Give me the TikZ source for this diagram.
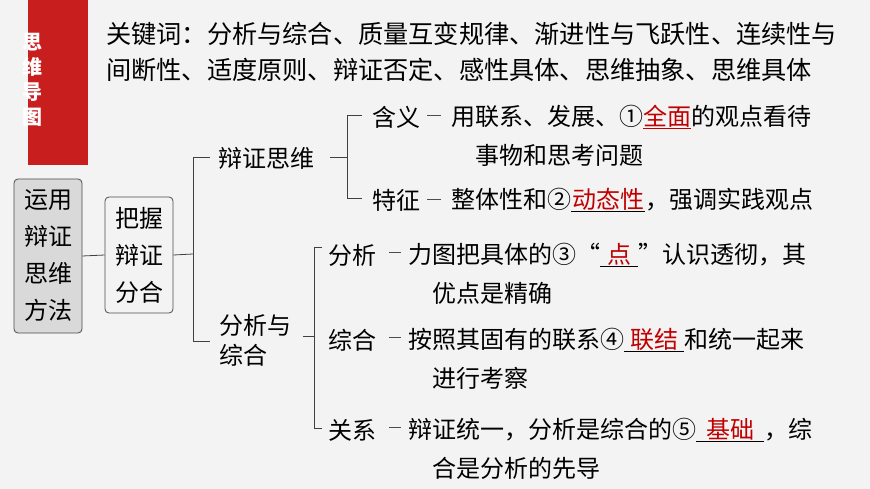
\documentclass[tikz,border=0pt]{standalone}
\usepackage{fontspec}
\setmainfont{Noto Sans CJK SC}
\definecolor{bg}{HTML}{F3F3F3}
\definecolor{redbar}{HTML}{C81E1E}
\definecolor{ans}{HTML}{C00000}
\newcommand{\fillin}[2]{\underline{\makebox[#1]{\textcolor{ans}{#2}}}}
\tikzset{
  t/.style={anchor=west, inner sep=0pt, font=\fontsize{24}{28}\selectfont},
  kw/.style={anchor=west, inner sep=0pt, font=\fontsize{25.2}{28}\selectfont},
  wire/.style={draw=black!75, line width=0.8pt},
  bx/.style={draw=black!70, rounded corners=4pt, line width=0.8pt, align=center, font=\fontsize{24}{37}\selectfont, inner sep=0pt},
  dsh/.style={draw=black!70, line width=0.8pt}
}
\begin{document}
\begin{tikzpicture}[x=1pt,y=-1pt]
\path[fill=bg] (0,0) rectangle (870,489);
\fill[redbar] (28,0) rectangle (88,165);
\foreach \c/\yy in {思/42,维/67,导/92,图/117}
  \node[text=white, font=\bfseries\fontsize{20}{20}\selectfont, inner sep=0pt] at (32,\yy) {\c};
\node[kw] (k1) at (106,34) {关键词：分析与综合、质量互变规律、渐进性与飞跃性、连续性与};
\node[kw] (k2) at (106,70) {间断性、适度原则、辩证否定、感性具体、思维抽象、思维具体};
% boxes
\node[bx, fill=black!15, minimum width=68pt, minimum height=154pt] (b1) at (48,256) {运用\\辩证\\思维\\方法};
\node[bx, fill=bg, minimum width=68pt, minimum height=116pt] (b2) at (139,255) {把握\\辩证\\分合};
\draw[wire] (b1.east) -- (b2.west);
% level 2
\node[t] (bz) at (218,158) {辩证思维};
\node[t, align=left, font=\fontsize{24}{30}\selectfont] (fx) at (219,340) {分析与\\综合};
\coordinate (j1) at (193,254);
\draw[wire] (b2.east) -- (j1);
\draw[wire] (210,157) -| (193,341) -- (210,341);
% 辩证思维 branch
\draw[wire] (330,157) -- (347,157);
\draw[wire] (362,115) -| (347,198) -- (362,198);
\node[t] (hy) at (372,117) {含义};
\draw[dsh] (427,115) -- (441,115);
\node[t] (hy1) at (451,117) {用联系、发展、①\textcolor{ans}{\underline{全面}}的观点看待};
\node[t] (hy2) at (475,155) {事物和思考问题};
\node[t] (tz) at (372,200) {特征};
\draw[dsh] (427,199) -- (441,199);
\node[t] (tz1) at (451,200) {整体性和②\fillin{74pt}{动态性}，强调实践观点};
% 分析与综合 branch
\draw[wire] (303,336) -- (314,336);
\draw[wire] (322,247) -| (314,428) -- (322,428);
\node[t] (fa) at (328,255) {分析};
\draw[dsh] (389,252) -- (401,252);
\node[t] (fa1) at (408,255) {力图把具体的③“\fillin{38pt}{点}”认识透彻，其};
\node[t] (fa2) at (432,293) {优点是精确};
\node[t] (zh) at (328,340) {综合};
\draw[dsh] (389,337) -- (401,337);
\node[t] (zh1) at (408,340) {按照其固有的联系④\fillin{60pt}{联结}和统一起来};
\node[t] (zh2) at (432,378) {进行考察};
\node[t] (gx) at (328,430) {关系};
\draw[dsh] (389,427) -- (401,427);
\node[t] (gx1) at (408,430) {辩证统一，分析是综合的⑤\fillin{68pt}{基础}，综};
\node[t] (gx2) at (432,468) {合是分析的先导};
\end{tikzpicture}
\end{document}
